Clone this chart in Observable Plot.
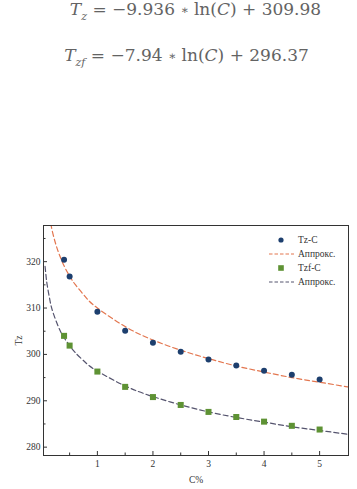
<!DOCTYPE html>
<html><head><meta charset="utf-8">
<script src="https://cdn.jsdelivr.net/npm/d3@7"></script>
<script src="https://cdn.jsdelivr.net/npm/@observablehq/plot@0.6"></script>
<style>
body{margin:0;background:#fff;}
#wrap{position:relative;width:357px;height:489px;overflow:hidden;background:#fff;}
#chart{position:absolute;left:0;top:0;}
.eq{position:absolute;left:0;width:357px;text-align:center;font-family:"DejaVu Serif",serif;font-size:17px;line-height:19px;color:#636363;white-space:nowrap;}
.eq i{font-style:italic}
.sub{font-size:11px;position:relative;top:5px;font-style:italic}
.ast{font-size:12px;position:relative;top:-1px}
#legend{position:absolute;left:266px;top:233px;font-family:"Liberation Serif",serif;font-size:9.5px;color:#333;}
#legend .row{display:flex;align-items:center;height:14px;}
#legend svg{width:30px;height:14px;margin-right:2px;}
</style></head>
<body><div id="wrap">
<div id="chart"></div>
<div class="eq" style="top:0px;transform:translateX(17px)"><i>T</i><span class="sub">z</span> = −9.936 <span class="ast">∗</span> ln(<i>C</i>) + 309.98</div>
<div class="eq" style="top:46px;transform:translateX(8px)"><i>T</i><span class="sub">zf</span> = −7.94 <span class="ast">∗</span> ln(<i>C</i>) + 296.37</div>
<div id="legend"></div>
</div>
<script>
// Measured points
const C = [0.4, 0.5, 1, 1.5, 2, 2.5, 3, 3.5, 4, 4.5, 5];
const Tz = [320.4, 316.8, 309.2, 305.1, 302.5, 300.6, 298.9, 297.6, 296.5, 295.6, 294.6];
const Tzf = [304.0, 301.9, 296.3, 293.0, 290.8, 289.1, 287.6, 286.5, 285.5, 284.6, 283.8];
// Approximation curves
const fitTzC = [0.16, 0.2, 0.25, 0.3, 0.4, 0.5, 0.6, 0.8, 1, 1.5, 2, 2.5, 3, 3.5, 4, 4.5, 5, 5.5, 5.55];
const fitTz = [328.2, 326.0, 323.8, 322.0, 319.1, 316.9, 315.1, 312.2, 310.0, 306.0, 303.1, 300.9, 299.1, 297.5, 296.2, 295.0, 294.0, 293.0, 292.9];
const fitTzfC = [0.058, 0.08, 0.1, 0.15, 0.2, 0.3, 0.4, 0.5, 0.6, 0.8, 1, 1.5, 2, 2.5, 3, 3.5, 4, 4.5, 5, 5.5, 5.55];
const fitTzf = [319.0, 316.4, 314.7, 311.4, 309.1, 305.9, 303.6, 301.9, 300.4, 298.1, 296.4, 293.2, 290.9, 289.1, 287.6, 286.4, 285.4, 284.4, 283.6, 282.8, 282.8];
// Ticks
const xTicks = [1, 2, 3, 4, 5];
const xMinor = [0.5, 1.5, 2.5, 3.5, 4.5];
const yTicks = [280, 290, 300, 310, 320];
const yMinor = [285, 295, 305, 315, 325];
// Legend
const legendLabels = ["Tz-C", "Аппрокс.", "Tzf-C", "Аппрокс."];

const colors = {tz: "#1d3f6e", tzFit: "#e3764f", tzf: "#5e9234", tzfFit: "#55546e"};

const pts = C.map((c, i) => ({c, tz: Tz[i], tzf: Tzf[i]}));
const f1 = fitTzC.map((c, i) => ({c, v: fitTz[i]}));
const f2 = fitTzfC.map((c, i) => ({c, v: fitTzf[i]}));

const W = 357, H = 489, mL = 43, mR = 9, mT = 225, mB = 34;
const innerW = W - mL - mR, innerH = H - mT - mB;

const chart = Plot.plot({
  width: W, height: H,
  marginLeft: mL, marginRight: mR, marginTop: mT, marginBottom: mB,
  style: {fontFamily: "Liberation Serif, serif", fontSize: "9.5px", color: "#333", background: "transparent"},
  x: {domain: [0.03, 5.52]},
  y: {domain: [278.2, 327.8]},
  marks: [
    Plot.line(f1, {x: "c", y: "v", stroke: colors.tzFit, strokeWidth: 1.2, strokeDasharray: "5,3", curve: "natural", clip: true}),
    Plot.line(f2, {x: "c", y: "v", stroke: colors.tzfFit, strokeWidth: 1.2, strokeDasharray: "5,3", curve: "natural", clip: true}),
    Plot.dot(pts, {x: "c", y: "tz", r: 3, fill: colors.tz, symbol: "circle"}),
    Plot.dot(pts, {x: "c", y: "tzf", r: 3.4, fill: colors.tzf, symbol: "square"}),
    Plot.tickY(yTicks, {y: d => d, stroke: "#333", insetRight: innerW - 4}),
    Plot.tickY(yMinor, {y: d => d, stroke: "#333", insetRight: innerW - 2.5}),
    Plot.tickX(xTicks, {x: d => d, stroke: "#333", insetTop: innerH - 4}),
    Plot.tickX(xMinor, {x: d => d, stroke: "#333", insetTop: innerH - 2.5}),
    Plot.axisY(yTicks, {tickSize: 0, tickPadding: 3, label: "Tz", labelAnchor: "center", labelOffset: 28, labelArrow: "none", fontSize: 9.5}),
    Plot.axisX(xTicks, {tickSize: 0, tickPadding: 5, label: "C%", labelAnchor: "center", labelOffset: 27, labelArrow: "none", fontSize: 9.5}),
    Plot.frame({stroke: "#333", strokeWidth: 1})
  ]
});
document.getElementById("chart").appendChild(chart);

// Legend
const lg = document.getElementById("legend");
const kinds = [
  {type: "circle", color: colors.tz},
  {type: "line", color: colors.tzFit},
  {type: "square", color: colors.tzf},
  {type: "line", color: colors.tzfFit}
];
legendLabels.forEach((lab, i) => {
  const row = document.createElement("div");
  row.className = "row";
  const k = kinds[i];
  let sw = "";
  if (k.type === "circle") sw = `<circle cx="15" cy="7" r="2.6" fill="${k.color}"/>`;
  else if (k.type === "square") sw = `<rect x="12.2" y="4.2" width="5.6" height="5.6" fill="${k.color}"/>`;
  else sw = `<line x1="3" y1="7" x2="28" y2="7" stroke="${k.color}" stroke-width="1" stroke-dasharray="3.5,2"/>`;
  row.innerHTML = `<svg viewBox="0 0 30 14">${sw}</svg><span>${lab}</span>`;
  lg.appendChild(row);
});
</script>
</body></html>
